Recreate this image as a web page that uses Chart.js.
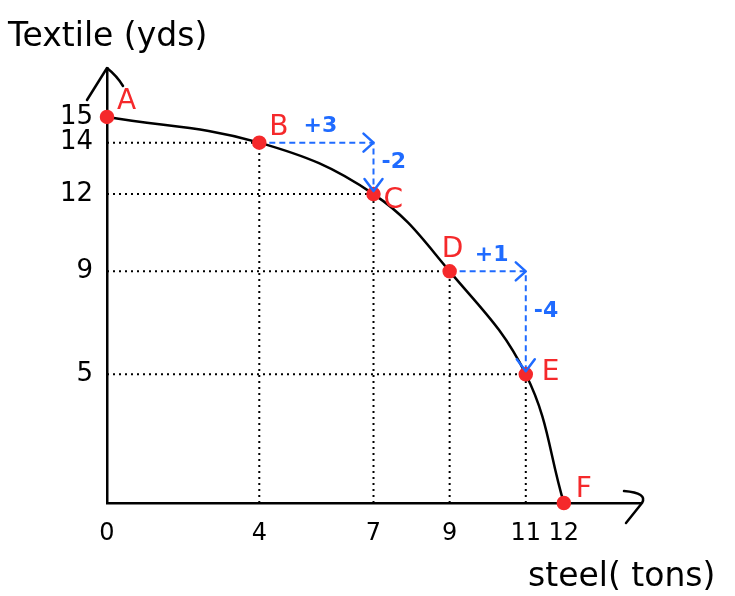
<!DOCTYPE html>
<html>
<head>
<meta charset="utf-8">
<script src="https://cdn.jsdelivr.net/npm/chart.js@4/dist/chart.umd.min.js"></script>
<style>
  html, body { margin: 0; padding: 0; background: #fff; }
  #wrap { width: 735px; height: 596px; }
</style>
</head>
<body>
<div id="wrap"><canvas id="ppf" width="735" height="596"></canvas></div>
<script>
/* Production possibilities: steel (tons) vs textile (yds) */
const pointNames = ['A', 'B', 'C', 'D', 'E', 'F'];
const steel      = [0, 4, 7, 9, 11, 12];
const textile    = [15, 14, 12, 9, 5, 0];

const xTicks = [0, 4, 7, 9, 11, 12];
const yTicks = [5, 9, 12, 14, 15];

/* opportunity-cost moves: [from index, to index] */
const moves      = [[1, 2], [3, 4]];
const gainLabels = ['+3', '+1'];
const lossLabels = ['-2', '-4'];

const RED  = '#f5292b';
const BLUE = '#1f6bff';
const FONT = "'DejaVu Sans', sans-serif";

const curve = steel.map((x, i) => ({ x, y: textile[i] }));

/* dotted guides from inner points down and across to the axes */
const guides = [];
for (let i = 1; i < steel.length - 1; i++) {
  guides.push({
    type: 'line', data: [{ x: 0, y: textile[i] }, { x: steel[i], y: textile[i] }],
    borderColor: '#000', borderWidth: 2, borderDash: [2, 4], pointRadius: 0, order: 3
  });
  guides.push({
    type: 'line', data: [{ x: steel[i], y: 0 }, { x: steel[i], y: textile[i] }],
    borderColor: '#000', borderWidth: 2, borderDash: [2, 4], pointRadius: 0, order: 3
  });
}

/* dashed blue L-shaped moves */
const moveSets = moves.map(([a, b]) => ({
  type: 'line',
  data: [{ x: steel[a], y: textile[a] }, { x: steel[b], y: textile[a] }, { x: steel[b], y: textile[b] }],
  borderColor: BLUE, borderWidth: 2, borderDash: [6, 4], pointRadius: 0, tension: 0, order: 2
}));

/* label offsets (px) for point names */
const nameOffsets = [[10, -8], [10, -8], [10, 14], [-8, -14], [16, 6], [12, -6]];

const decorations = {
  id: 'decorations',
  afterDatasetsDraw(chart) {
    const { ctx, scales: { x, y }, chartArea } = chart;
    ctx.save();
    ctx.lineCap = 'round';
    ctx.lineJoin = 'round';

    /* axis arrowheads */
    ctx.strokeStyle = '#000';
    ctx.lineWidth = 2.5;
    ctx.beginPath();
    ctx.moveTo(chartArea.left - 20, chartArea.top + 32);
    ctx.lineTo(chartArea.left, chartArea.top);
    ctx.quadraticCurveTo(chartArea.left + 10, chartArea.top + 8, chartArea.left + 16, chartArea.top + 18);
    ctx.stroke();
    ctx.beginPath();
    ctx.moveTo(chartArea.right - 16, chartArea.bottom - 12);
    ctx.quadraticCurveTo(chartArea.right + 8, chartArea.bottom - 10, chartArea.right + 2, chartArea.bottom);
    ctx.lineTo(chartArea.right - 14, chartArea.bottom + 20);
    ctx.stroke();

    /* blue arrowheads + change labels */
    ctx.strokeStyle = BLUE;
    ctx.fillStyle = BLUE;
    ctx.lineWidth = 2.5;
    ctx.font = `bold 22px ${FONT}`;
    moves.forEach(([a, b], k) => {
      const cx = x.getPixelForValue(steel[b]);
      const cy = y.getPixelForValue(textile[a]);
      const ey = y.getPixelForValue(textile[b]) - 3;
      const sx = x.getPixelForValue(steel[a]);
      ctx.beginPath();
      ctx.moveTo(cx - 10, cy - 9);
      ctx.lineTo(cx, cy);
      ctx.lineTo(cx - 10, cy + 9);
      ctx.stroke();
      ctx.beginPath();
      ctx.moveTo(cx - 9, ey - 12);
      ctx.lineTo(cx, ey);
      ctx.lineTo(cx + 9, ey - 12);
      ctx.stroke();
      ctx.textAlign = 'center';
      ctx.textBaseline = 'bottom';
      ctx.fillText(gainLabels[k], (sx + cx) / 2 + 4, cy - 5);
      ctx.textAlign = 'left';
      ctx.textBaseline = 'middle';
      ctx.fillText(lossLabels[k], cx + 8, cy + (ey - cy) * 0.4);
    });

    /* point names */
    ctx.fillStyle = RED;
    ctx.font = `28px ${FONT}`;
    ctx.textAlign = 'left';
    ctx.textBaseline = 'alphabetic';
    const meta = chart.getDatasetMeta(0);
    meta.data.forEach((pt, i) => {
      const [dx, dy] = nameOffsets[i];
      ctx.fillText(pointNames[i], pt.x + dx, pt.y + dy);
    });

    /* axis titles */
    ctx.fillStyle = '#000';
    ctx.font = `33px ${FONT}`;
    ctx.fillText('Textile (yds)', 8, 46);
    ctx.fillText('steel( tons)', 528, 586);
    ctx.restore();
  }
};

new Chart(document.getElementById('ppf'), {
  type: 'line',
  data: {
    datasets: [
      {
        data: curve,
        borderColor: '#000', borderWidth: 2.5,
        tension: 0.4,
        pointRadius: 6, pointBackgroundColor: RED, pointBorderColor: RED,
        clip: false, order: 1
      },
      ...moveSets,
      ...guides
    ]
  },
  options: {
    responsive: false,
    animation: false,
    layout: { padding: { top: 68, right: 95, left: 0, bottom: 0 } },
    plugins: { legend: { display: false }, tooltip: { enabled: false } },
    scales: {
      x: {
        type: 'linear', min: 0, max: 14,
        afterFit(s) { s.height = 93; },
        afterBuildTicks(s) { s.ticks = xTicks.map(v => ({ value: v })); },
        grid: { display: false, drawTicks: false },
        border: { display: true, color: '#000', width: 2.5 },
        ticks: { color: '#000', font: { family: FONT, size: 24 }, padding: 16, maxRotation: 0, autoSkip: false }
      },
      y: {
        type: 'linear', min: 0, max: 16.9,
        afterFit(s) { s.width = 107; },
        afterBuildTicks(s) { s.ticks = yTicks.map(v => ({ value: v })); },
        grid: { display: false, drawTicks: false },
        border: { display: true, color: '#000', width: 2.5 },
        ticks: { color: '#000', font: { family: FONT, size: 26 }, padding: 14, autoSkip: false }
      }
    }
  },
  plugins: [decorations]
});
</script>
</body>
</html>
